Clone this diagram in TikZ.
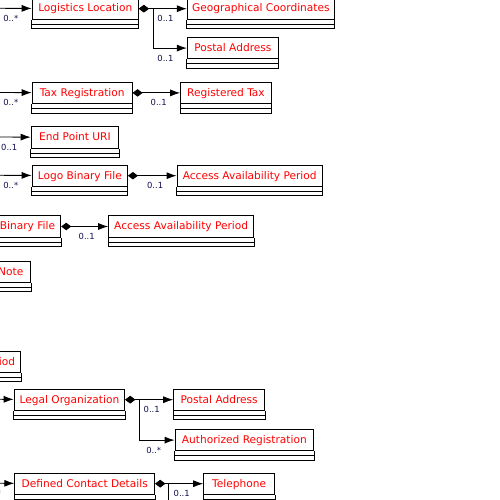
\documentclass[tikz,border=0pt]{standalone}
\usepackage{fontspec}
\newfontfamily\umlfont{DejaVu Sans}
\usetikzlibrary{arrows.meta,positioning}
\definecolor{multcol}{RGB}{16,16,80}
% the two empty compartments under a class header
\newcommand{\compart}[1]{%
  \draw (#1.south west) -- ++(0,9) -| (#1.south east)
        ([yshift=-4.5pt]#1.south west) -- ([yshift=-4.5pt]#1.south east);}

\begin{document}
\begin{tikzpicture}[x=1pt,y=-1pt,line width=0.9pt,
		cls/.style={draw,fill=white,text=red,font=\umlfont\fontsize{10.6}{12}\selectfont,
			minimum height=21.5pt,inner xsep=3pt,inner ysep=0pt,text height=7.8pt,text depth=1.2pt,anchor=north west},
		assoc/.style={-{Latex[length=10pt,width=7pt]}},
		comp/.style={{Diamond[length=10pt,width=7.5pt]}-{Latex[length=10pt,width=7pt]}},
		mult/.style={font=\umlfont\fontsize{8.4}{9}\selectfont,text=multcol,inner sep=0pt,anchor=east,xshift=-13pt,yshift=-10pt}]
		\clip (0,0) rectangle (500,500);
		
		% logistics location
		\node[cls,minimum width=106.3pt] (loc) at (31.7,-2.5) {Logistics Location};
		\node[cls,minimum width=147pt] (geo) [right=48pt of loc] {Geographical Coordinates};
		\node[cls,minimum width=91pt] (post1) [below=17pt of geo.south west,anchor=north west] {Postal Address};
		\coordinate (inLoc) at (-5,8.25);
		\draw[assoc] (inLoc) -- (loc) node[mult,pos=1] {0..*};
		\draw[comp] (loc) -- (geo) node[mult,pos=1] {0..1};
		\draw[comp] (loc.east) -- ++(14.7,0) |- (post1) node[mult,pos=1] {0..1};
		
		% tax registration
		\node[cls,minimum width=100pt] (tax) at (31.7,81.7) {Tax Registration};
		\node[cls,minimum width=90.7pt] (regtax) [right=47.6pt of tax] {Registered Tax};
		\coordinate (inTax) at (-5,92.45);
		\draw[assoc] (inTax) -- (tax) node[mult,pos=1] {0..*};
		\draw[comp] (tax) -- (regtax) node[mult,pos=1] {0..1};
		
		% end point
		\node[cls,minimum width=87.6pt] (uri) at (30.7,126.2) {End Point URI};
		\coordinate (inUri) at (-5,136.95);
		\draw[assoc] (inUri) -- (uri) node[mult,pos=1] {0..1};
		
		% logo
		\node[cls,minimum width=95.3pt] (logo) at (31.7,164.5) {Logo Binary File};
		\node[cls,minimum width=145.3pt] (acc) [right=48.7pt of logo] {Access Availability Period};
		\coordinate (inLogo) at (-5,175.25);
		\draw[assoc] (inLogo) -- (logo) node[mult,pos=1] {0..*};
		\draw[comp] (logo) -- (acc) node[mult,pos=1] {0..1};
		
		% logo, second use
		\node[cls,minimum width=95.3pt] (logoB) at (-35,215.3) {Logo Binary File};
		\node[cls,minimum width=145pt] (accB) [right=47pt of logoB] {Access Availability Period};
		\draw[comp] (logoB) -- (accB) node[mult,pos=1] {0..1};
		
		% note
		\node[cls,minimum width=40pt] (note) at (-9.7,260.5) {Note};
		
		% period
		\node[cls,minimum width=145.3pt] (accC) at (-125,350.5) {Access Availability Period};
		
		% legal organization
		\node[cls,minimum width=110.6pt] (legal) at (13.7,388.5) {Legal Organization};
		\node[cls,minimum width=91pt] (post2) [right=48pt of legal] {Postal Address};
		\node[cls,minimum width=138.6pt] (auth) [below=18pt of post2.south west,anchor=north west,xshift=1.4pt] {Authorized Registration};
		\coordinate (inLegal) at (-5,399.25);
		\draw[assoc] (inLegal) -- (legal) node[mult,pos=1] {0..*};
		\draw[comp] (legal) -- (post2) node[mult,pos=1] {0..1};
		\draw[comp] (legal.east) -- ++(14,0) |- (auth) node[mult,pos=1] {0..*};
		
		% contact details
		\node[cls,minimum width=140pt] (dcd) at (14.3,472.5) {Defined Contact Details};
		\node[cls,minimum width=71pt] (tel) [right=48pt of dcd] {Telephone};
		\coordinate (inDcd) at (-5,483.25);
		\coordinate (dcdMore) at (210,530);
		\draw[assoc] (inDcd) -- (dcd) node[mult,pos=1] {0..*};
		\draw[comp] (dcd) -- (tel) node[mult,pos=1] {0..1};
		\draw[comp] (dcd.east) -- ++(13.4,0) |- (dcdMore);
		
		\foreach \c in {loc,geo,post1,tax,regtax,uri,logo,acc,logoB,accB,note,accC,legal,post2,auth,dcd,tel}
		{\compart{\c}}
\end{tikzpicture}
\end{document}
